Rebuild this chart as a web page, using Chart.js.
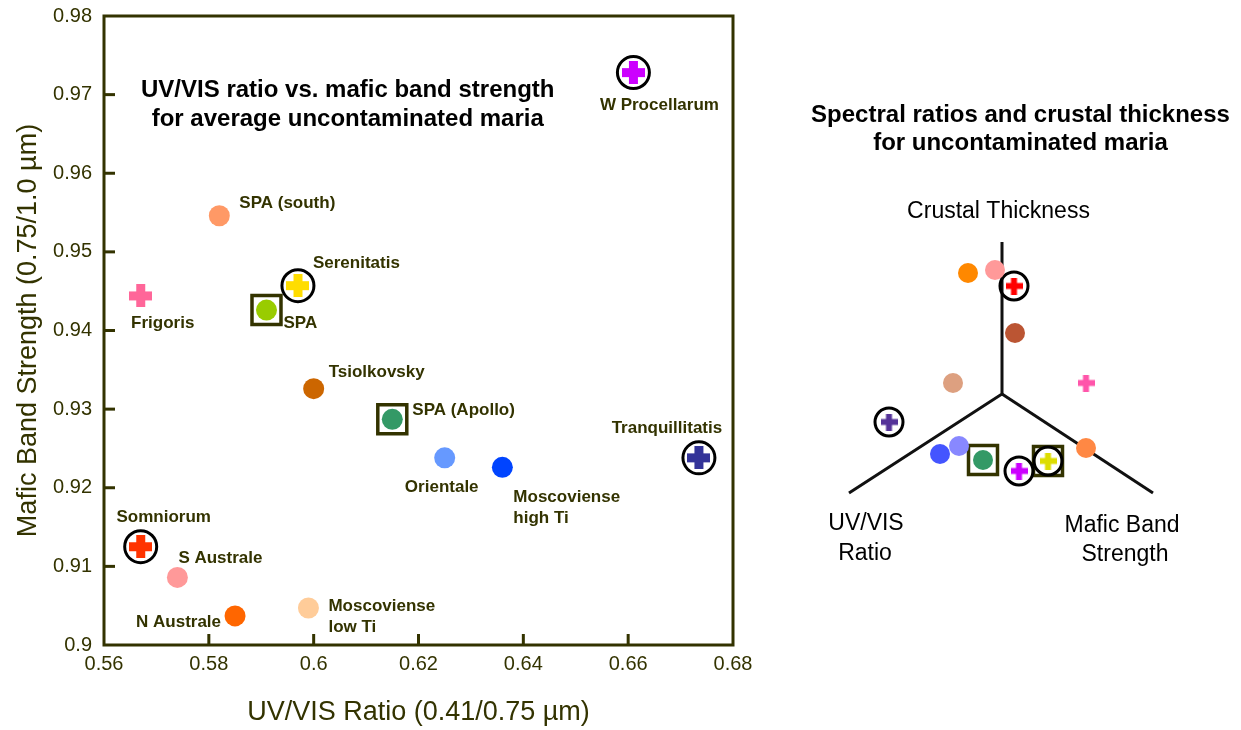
<!DOCTYPE html>
<html>
<head>
<meta charset="utf-8">
<script src="https://cdn.jsdelivr.net/npm/chart.js@4.4.1/dist/chart.umd.min.js"></script>
<style>
  html, body { margin: 0; padding: 0; background: #fff; }
  #wrap { position: relative; width: 1241px; height: 730px; overflow: hidden; }
  #left { position: absolute; left: 0; top: 0; }
  #right { position: absolute; left: 800px; top: 0; }
</style>
</head>
<body>
<div id="wrap">
  <canvas id="left" width="790" height="730"></canvas>
  <canvas id="right" width="441" height="730"></canvas>
</div>
<script>
// left panel: average uncontaminated maria
const maria = ['W Procellarum', 'SPA (south)', 'Serenitatis', 'Frigoris', 'SPA', 'Tsiolkovsky',
  'SPA (Apollo)', 'Orientale', 'Moscoviense\nhigh Ti', 'Tranquillitatis', 'Somniorum',
  'S Australe', 'N Australe', 'Moscoviense\nlow Ti'];
const uvVisRatio = [0.661, 0.582, 0.597, 0.567, 0.591, 0.600, 0.615, 0.625, 0.636, 0.6735, 0.567, 0.574, 0.585, 0.599];
const maficStrength = [0.9728, 0.9546, 0.9457, 0.9444, 0.9426, 0.9326, 0.9287, 0.9238, 0.9226, 0.9238, 0.9125, 0.9086, 0.9037, 0.9047];
const mariaColors = ['#cc00ff', '#ff9966', '#ffdd00', '#ff6699', '#99cc00', '#cc6600', '#339966',
  '#6699ff', '#0044ff', '#333399', '#ff3300', '#ff9999', '#ff6600', '#ffcc99'];
const mariaMarker = ['plus', 'dot', 'plus', 'plus', 'dot', 'dot', 'dot', 'dot', 'dot', 'plus', 'plus', 'dot', 'dot', 'dot'];
const mariaFrame = ['ring', '', 'ring', '', 'box', '', 'box', '', '', 'ring', 'ring', '', '', ''];

const xTickLabels = ['0.56', '0.58', '0.6', '0.62', '0.64', '0.66', '0.68'];
const yTickLabels = ['0.9', '0.91', '0.92', '0.93', '0.94', '0.95', '0.96', '0.97', '0.98'];

// right panel: schematic of ratios vs crustal thickness (diagram units, origin at the axes junction)
const triX = [-34, -7, 12, 13, -49, 84, -113, -62, -43, -19, 17, 46, 84];
const triY = [121, 124, 108, 61, 11, 11, -28, -60, -52, -66, -77, -67, -54];
const triColors = ['#ff8800', '#ff9999', '#ff0000', '#bb5533', '#dda080', '#ff55aa', '#553399',
  '#4455ff', '#8888ff', '#339966', '#cc00ff', '#dddd00', '#ff8844'];
const triMarker = ['dot', 'dot', 'plus', 'dot', 'dot', 'plus', 'plus', 'dot', 'dot', 'dot', 'plus', 'plus', 'dot'];
const triFrame = ['', '', 'ring', '', '', '', 'ring', '', '', 'box', 'ring', 'ringbox', ''];
const stemX = [0, 0, -153];
const stemY = [152, 0, -99];
const branchX = [0, 151];
const branchY = [0, -99];

const FONT = 'Arial, "Liberation Sans", Helvetica, sans-serif';
const INK = '#333300';
Chart.defaults.font.family = FONT;

// label placement next to each mare: dx, dy, align
const labelPlace = [[26, 33, 'center'], [20, -12, 'left'], [15, -22, 'left'], [22, 27, 'center'],
  [17, 13, 'left'], [15, -16, 'left'], [20, -9, 'left'], [-3, 29, 'center'], [11, 30, 'left'],
  [-32, -30, 'center'], [23, -29, 'center'], [1, -19, 'left'], [-14, 6, 'right'], [20, -2, 'left']];

function plusImage(color, size, arm) {
  const c = document.createElement('canvas');
  c.width = size;
  c.height = size;
  const g = c.getContext('2d');
  g.fillStyle = color;
  const o = (size - arm) / 2;
  g.fillRect(o, 0, arm, size);
  g.fillRect(0, o, size, arm);
  return c;
}

function markerStyles(markers, colors, size, arm) {
  return markers.map((m, i) => (m === 'plus' ? plusImage(colors[i], size, arm) : 'circle'));
}

const leftPoints = maria.map((_, i) => ({ x: uvVisRatio[i], y: maficStrength[i] }));
const triPoints = triX.map((x, i) => ({ x: x, y: triY[i] }));

const leftDecor = {
  id: 'leftDecor',
  afterDatasetsDraw(chart) {
    const { ctx, chartArea: a, scales: { x, y } } = chart;
    ctx.save();
    // frame
    ctx.strokeStyle = INK;
    ctx.lineWidth = 3;
    ctx.strokeRect(a.left, a.top, a.right - a.left, a.bottom - a.top);
    // inward ticks
    xTickLabels.slice(1, -1).forEach(t => {
      const px = x.getPixelForValue(parseFloat(t));
      ctx.beginPath(); ctx.moveTo(px, a.bottom); ctx.lineTo(px, a.bottom - 11); ctx.stroke();
    });
    yTickLabels.slice(1, -1).forEach(t => {
      const py = y.getPixelForValue(parseFloat(t));
      ctx.beginPath(); ctx.moveTo(a.left, py); ctx.lineTo(a.left + 11, py); ctx.stroke();
    });
    // panel title
    ctx.fillStyle = '#000';
    ctx.font = 'bold 24px ' + FONT;
    ctx.textAlign = 'center';
    ctx.textBaseline = 'middle';
    const tx = x.getPixelForValue(0.6065);
    ctx.fillText('UV/VIS ratio vs. mafic band strength', tx, y.getPixelForValue(0.9706));
    ctx.fillText('for average uncontaminated maria', tx, y.getPixelForValue(0.9669));
    // mare labels
    ctx.fillStyle = INK;
    ctx.font = 'bold 17px ' + FONT;
    maria.forEach((name, i) => {
      const [dx, dy, align] = labelPlace[i];
      const px = x.getPixelForValue(uvVisRatio[i]) + dx;
      const py = y.getPixelForValue(maficStrength[i]) + dy;
      ctx.textAlign = align;
      name.split('\n').forEach((line, k) => ctx.fillText(line, px, py + k * 21));
    });
    ctx.restore();
  }
};

new Chart(document.getElementById('left'), {
  type: 'scatter',
  data: {
    datasets: [
      {
        label: 'maria',
        data: leftPoints,
        pointStyle: markerStyles(mariaMarker, mariaColors, 23, 9),
        pointRadius: 10.5,
        pointBackgroundColor: mariaColors,
        pointBorderWidth: 0,
        order: 1
      },
      {
        label: 'ring',
        data: leftPoints.filter((_, i) => mariaFrame[i] === 'ring'),
        pointStyle: 'circle',
        pointRadius: 16,
        pointBackgroundColor: 'rgba(0,0,0,0)',
        pointBorderColor: '#000',
        pointBorderWidth: 3,
        order: 2
      },
      {
        label: 'box',
        data: leftPoints.filter((_, i) => mariaFrame[i] === 'box'),
        pointStyle: 'rect',
        pointRadius: 20.5,
        pointBackgroundColor: 'rgba(0,0,0,0)',
        pointBorderColor: INK,
        pointBorderWidth: 3.5,
        order: 3
      }
    ]
  },
  options: {
    responsive: false,
    animation: false,
    devicePixelRatio: 1,
    events: [],
    layout: { autoPadding: false, padding: { top: 16, right: 57, left: 0, bottom: 0 } },
    plugins: { legend: { display: false }, tooltip: { enabled: false } },
    scales: {
      x: {
        type: 'linear',
        min: 0.56,
        max: 0.68,
        afterBuildTicks: s => { s.ticks = xTickLabels.map(t => ({ value: parseFloat(t) })); },
        afterFit: s => { s.height = 85; s.paddingLeft = 0; s.paddingRight = 0; },
        grid: { display: false, drawTicks: false },
        border: { display: false },
        ticks: { padding: 7, color: INK, font: { size: 20 }, maxRotation: 0, callback: (v, i) => xTickLabels[i] },
        title: { display: true, text: 'UV/VIS Ratio (0.41/0.75 \u00b5m)', color: INK, font: { size: 27 }, padding: { top: 0, bottom: 1 } }
      },
      y: {
        type: 'linear',
        min: 0.9,
        max: 0.98,
        afterBuildTicks: s => { s.ticks = yTickLabels.map(t => ({ value: parseFloat(t) })); },
        afterFit: s => { s.width = 104; s.paddingTop = 0; s.paddingBottom = 0; },
        grid: { display: false, drawTicks: false },
        border: { display: false },
        ticks: { padding: 12, color: INK, font: { size: 20 }, callback: (v, i) => yTickLabels[i] },
        title: { display: true, text: 'Mafic Band Strength (0.75/1.0 \u00b5m)', color: INK, font: { size: 27 }, padding: { top: 12, bottom: 0 } }
      }
    }
  },
  plugins: [leftDecor]
});

const rightDecor = {
  id: 'rightDecor',
  afterDatasetsDraw(chart) {
    const { ctx, scales: { x, y } } = chart;
    ctx.save();
    ctx.fillStyle = '#000';
    ctx.textAlign = 'center';
    ctx.textBaseline = 'middle';
    ctx.font = 'bold 24px ' + FONT;
    ctx.fillText('Spectral ratios and crustal thickness', chart.width / 2, 115);
    ctx.fillText('for uncontaminated maria', chart.width / 2, 143);
    ctx.font = '23px ' + FONT;
    ctx.fillText('Crustal Thickness', x.getPixelForValue(-3.5), y.getPixelForValue(182));
    ctx.fillText('UV/VIS', x.getPixelForValue(-136), y.getPixelForValue(-130));
    ctx.fillText('Ratio', x.getPixelForValue(-137), y.getPixelForValue(-160));
    ctx.fillText('Mafic Band', x.getPixelForValue(120), y.getPixelForValue(-132));
    ctx.fillText('Strength', x.getPixelForValue(123), y.getPixelForValue(-161));
    ctx.restore();
  }
};

new Chart(document.getElementById('right'), {
  type: 'scatter',
  data: {
    datasets: [
      {
        label: 'stem',
        data: stemX.map((v, i) => ({ x: v, y: stemY[i] })),
        showLine: true,
        borderColor: '#111',
        borderWidth: 3,
        pointRadius: 0,
        order: 9
      },
      {
        label: 'branch',
        data: branchX.map((v, i) => ({ x: v, y: branchY[i] })),
        showLine: true,
        borderColor: '#111',
        borderWidth: 3,
        pointRadius: 0,
        order: 8
      },
      {
        label: 'maria',
        data: triPoints,
        pointStyle: markerStyles(triMarker, triColors, 17, 6),
        pointRadius: 10,
        pointBackgroundColor: triColors,
        pointBorderWidth: 0,
        order: 1
      },
      {
        label: 'ring',
        data: triPoints.filter((_, i) => triFrame[i].startsWith('ring')),
        pointStyle: 'circle',
        pointRadius: 14,
        pointBackgroundColor: 'rgba(0,0,0,0)',
        pointBorderColor: '#000',
        pointBorderWidth: 3,
        order: 2
      },
      {
        label: 'box',
        data: triPoints.filter((_, i) => triFrame[i].endsWith('box')),
        pointStyle: 'rect',
        pointRadius: 20.5,
        pointBackgroundColor: 'rgba(0,0,0,0)',
        pointBorderColor: INK,
        pointBorderWidth: 3.5,
        order: 3
      }
    ]
  },
  options: {
    responsive: false,
    animation: false,
    devicePixelRatio: 1,
    events: [],
    layout: { autoPadding: false, padding: 0 },
    plugins: { legend: { display: false }, tooltip: { enabled: false } },
    scales: {
      x: { type: 'linear', display: false, min: -202, max: 239 },
      y: { type: 'linear', display: false, min: -336, max: 394 }
    }
  },
  plugins: [rightDecor]
});
</script>
</body>
</html>
